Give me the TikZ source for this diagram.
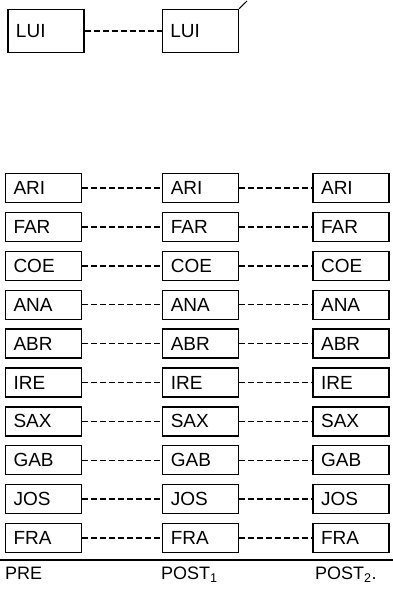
\documentclass[tikz,border=0pt]{standalone}
\usepackage{fontspec}
\setmainfont{Liberation Sans}
\usetikzlibrary{positioning}

\begin{document}
\begin{tikzpicture}[
  node distance=8.6pt and 80pt,
  subj/.style={draw, line width=1.3pt, minimum height=29pt, text width=60pt, inner xsep=8pt, inner ysep=0pt, align=left, font=\fontsize{19}{22}\selectfont},
  luibox/.style={subj, minimum height=43pt},
  link/.style={line width=1.5pt, dash pattern=on 6pt off 3pt},
  axisline/.style={line width=1.6pt},
  phase/.style={anchor=north west, inner sep=0pt, font=\fontsize{18}{21}\selectfont}
]
  \useasboundingbox (0,0) rectangle (393pt,-589pt);

  % the LUI pair on top
  \node[luibox] (lui1) at (46pt,-31pt) {LUI};
  \node[luibox, right=77pt of lui1] (lui2) {LUI};
  \coordinate (mark) at (247pt,-1pt);

  % PRE column
  \node[subj] (ari1) at (43.5pt,-188pt) {ARI};
  \node[subj, below=of ari1] (far1) {FAR};
  \node[subj, below=of far1] (coe1) {COE};
  \node[subj, below=of coe1] (ana1) {ANA};
  \node[subj, below=of ana1] (abr1) {ABR};
  \node[subj, below=of abr1] (ire1) {IRE};
  \node[subj, below=of ire1] (sax1) {SAX};
  \node[subj, below=of sax1] (gab1) {GAB};
  \node[subj, below=of gab1] (jos1) {JOS};
  \node[subj, below=of jos1] (fra1) {FRA};

  % POST1 column
  \node[subj, right=of ari1] (ari2) {ARI};
  \node[subj, right=of far1] (far2) {FAR};
  \node[subj, right=of coe1] (coe2) {COE};
  \node[subj, right=of ana1] (ana2) {ANA};
  \node[subj, right=of abr1] (abr2) {ABR};
  \node[subj, right=of ire1] (ire2) {IRE};
  \node[subj, right=of sax1] (sax2) {SAX};
  \node[subj, right=of gab1] (gab2) {GAB};
  \node[subj, right=of jos1] (jos2) {JOS};
  \node[subj, right=of fra1] (fra2) {FRA};

  % POST2 column
  \node[subj, right=73pt of ari2] (ari3) {ARI};
  \node[subj, right=73pt of far2] (far3) {FAR};
  \node[subj, right=73pt of coe2] (coe3) {COE};
  \node[subj, right=73pt of ana2] (ana3) {ANA};
  \node[subj, right=73pt of abr2] (abr3) {ABR};
  \node[subj, right=73pt of ire2] (ire3) {IRE};
  \node[subj, right=73pt of sax2] (sax3) {SAX};
  \node[subj, right=73pt of gab2] (gab3) {GAB};
  \node[subj, right=73pt of jos2] (jos3) {JOS};
  \node[subj, right=73pt of fra2] (fra3) {FRA};

  % phase labels under the rule
  \coordinate (axisL) at (0,-560pt);
  \coordinate (axisR) at (393pt,-560pt);
  \node[phase] (pre) at (5pt,-567pt) {PRE};
  \node[phase] (post1) at (161pt,-567pt) {POST\textsubscript{1}};
  \node[phase] (post2) at (315pt,-567pt) {POST\textsubscript{2}.};

  \draw[link] (lui1) -- (lui2);
  \draw[line width=1pt] (lui2.north east) -- (mark);

  \draw[link] (ari1) -- (ari2);
  \draw[link] (far1) -- (far2);
  \draw[link] (coe1) -- (coe2);
  \draw[link] (ana1) -- (ana2);
  \draw[link] (abr1) -- (abr2);
  \draw[link] (ire1) -- (ire2);
  \draw[link] (sax1) -- (sax2);
  \draw[link] (gab1) -- (gab2);
  \draw[link] (jos1) -- (jos2);
  \draw[link] (fra1) -- (fra2);

  \draw[link] (ari2) -- (ari3);
  \draw[link] (far2) -- (far3);
  \draw[link] (coe2) -- (coe3);
  \draw[link] (ana2) -- (ana3);
  \draw[link] (abr2) -- (abr3);
  \draw[link] (ire2) -- (ire3);
  \draw[link] (sax2) -- (sax3);
  \draw[link] (gab2) -- (gab3);
  \draw[link] (jos2) -- (jos3);
  \draw[link] (fra2) -- (fra3);

  \draw[axisline] (axisL) -- (axisR);
\end{tikzpicture}
\end{document}
